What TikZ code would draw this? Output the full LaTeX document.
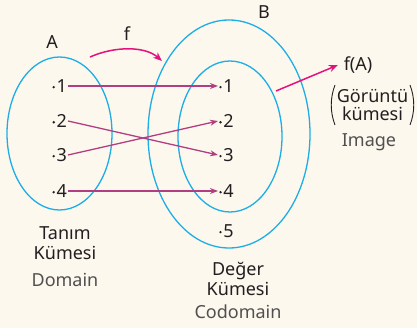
\documentclass[tikz,border=0pt]{standalone}
\usepackage{fontspec}
\setmainfont{Noto Sans}
\usetikzlibrary{arrows.meta}
\definecolor{bg}{HTML}{FCF8EE}
\definecolor{setblue}{HTML}{1EAEE6}
\definecolor{maparrow}{HTML}{B23E82}
\definecolor{pinkarrow}{HTML}{E5127D}
\definecolor{txt}{HTML}{231F20}
\definecolor{subtxt}{HTML}{505050}
\newcommand{\eldot}{\raisebox{0.22em}{\tikz\fill[txt] (0,0) circle (1.3pt);}\hspace{1.5pt}}
\begin{document}
\begin{tikzpicture}[x=1pt,y=-1pt,
  setline/.style={draw=setblue,line width=1.3pt},
  elem/.style={font=\fontsize{18}{18}\selectfont,text=txt,inner sep=1pt},
  lbl/.style={font=\fontsize{18}{20}\selectfont,text=txt,align=center,inner sep=0pt},
  sublbl/.style={font=\fontsize{18}{20}\selectfont,text=subtxt,inner sep=0pt},
  paren/.style={draw=txt,line width=0.9pt},
  maparr/.style={draw=maparrow,line width=1.3pt,-{Stealth[length=8pt,width=6pt]}},
  pinkarr/.style={draw=pinkarrow,line width=1.5pt,-{Stealth[length=9pt,width=7pt]}}]
\fill[bg] (0,0) rectangle (417,328);
\useasboundingbox (0,0) rectangle (417,328);
% sets
\draw[setline] (59.5,133.5) ellipse [x radius=52.5,y radius=76.5];
\draw[setline] (229,134) ellipse [x radius=81,y radius=114];
\draw[setline] (230,136.5) ellipse [x radius=52,y radius=75.5];
% labels
\node[lbl] (A) at (52,42) {A};
\node[lbl] (f) at (127,34) {f};
\node[lbl] (B) at (264,12) {B};
\node[lbl] (fA) at (358,65) {f(A)};
\node[lbl] (img) at (372.5,105) {Görüntü\\[-2pt]kümesi};
\draw[paren] (335,85) .. controls (330,98) and (330,112) .. (335,125);
\draw[paren] (410,85) .. controls (415,98) and (415,112) .. (410,125);
\node[sublbl] (imgen) at (369,142) {Image};
\node[lbl] (dom) at (65,243) {Tanım\\Kümesi};
\node[sublbl] (domen) at (65,280) {Domain};
\node[lbl] (cod) at (238,279) {Değer\\Kümesi};
\node[sublbl] (coden) at (238,312) {Codomain};
% elements of A
\node[elem,anchor=east] (a1) at (68,86) {\eldot1};
\node[elem,anchor=east] (a2) at (68,121) {\eldot2};
\node[elem,anchor=east] (a3) at (68,155) {\eldot3};
\node[elem,anchor=east] (a4) at (68,191) {\eldot4};
% elements of B
\node[elem,anchor=west] (b1) at (218,86) {\eldot1};
\node[elem,anchor=west] (b2) at (218,121) {\eldot2};
\node[elem,anchor=west] (b3) at (218,155) {\eldot3};
\node[elem,anchor=west] (b4) at (218,191) {\eldot4};
\node[elem,anchor=west] (b5) at (218,231) {\eldot5};
% mapping arrows
\draw[maparr] (a1.east) -- (b1.west);
\draw[maparr] (a2.east) -- (b3.west);
\draw[maparr] (a3.east) -- (b2.west);
\draw[maparr] (a4.east) -- (b4.west);
% f arrow
\coordinate (fs) at (90,57);
\coordinate (fe) at (162,61);
\draw[pinkarr] (fs) .. controls (115,46) and (145,46) .. (fe);
% image arrow
\coordinate (is) at (276,91);
\coordinate (ie) at (338,65);
\draw[pinkarr] (is) -- (ie);
\end{tikzpicture}
\end{document}
